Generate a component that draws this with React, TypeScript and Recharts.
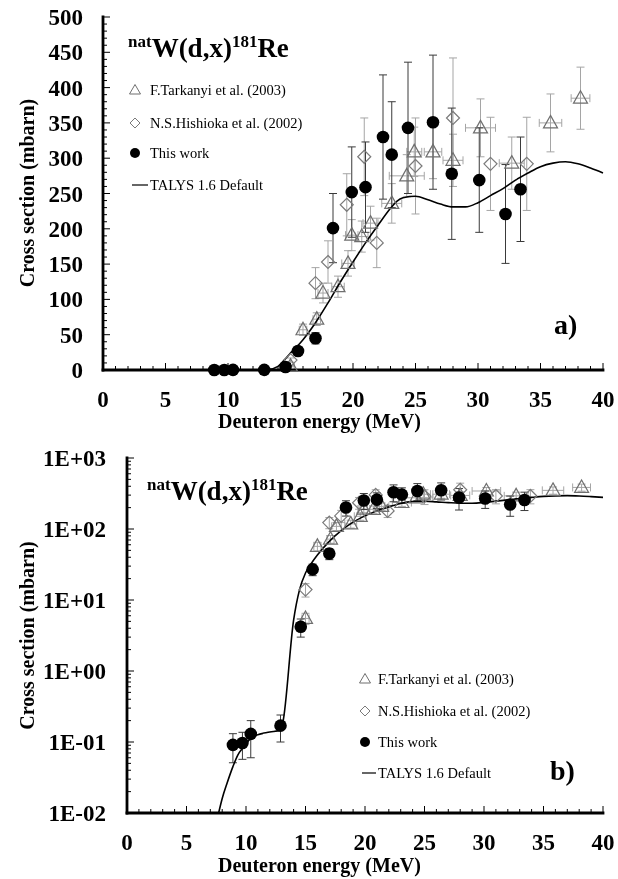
import React from 'react';
import { ComposedChart, Scatter, Line, XAxis, YAxis, ErrorBar } from 'recharts';

const FONT = '"Liberation Serif", "Times New Roman", serif';

// ---- Data ----
const energyThisWork = [8.9, 9.7, 10.4, 12.9, 14.6, 15.6, 17.0, 18.4, 19.9, 21.0, 22.4, 23.1, 24.4, 26.4, 27.9, 30.1, 32.2, 33.4];
const sigmaThisWork = [0.091, 0.097, 0.13, 0.17, 4.2, 27, 45, 201, 252, 259, 330, 305, 343, 351, 278, 269, 221, 256];
const sigmaErrThisWork = [0.04, 0.04, 0.07, 0.07, 1.2, 5, 8, 49, 64, 64, 88, 75, 93, 95, 93, 74, 70, 74];
const energyErrThisWork = [0.3, 0.3, 0.3, 0.3, 0.3, 0.3, 0.3, 0.3, 0.3, 0.3, 0.3, 0.3, 0.3, 0.3, 0.3, 0.3, 0.3, 0.3];

const energyTarkanyi = [15.0, 16.0, 17.1, 17.6, 18.8, 19.6, 19.9, 20.7, 21.4, 23.1, 24.3, 24.9, 26.4, 28.0, 30.2, 32.7, 35.8, 38.2];
const sigmaTarkanyi = [5.5, 57, 72, 109, 118, 151, 191, 189, 208, 236, 275, 309, 309, 297, 343, 293, 350, 385];
const sigmaErrTarkanyi = [1, 8, 9, 14, 15, 18, 22, 22, 24, 28, 30, 35, 38, 37, 41, 37, 41, 44];
const energyErrTarkanyi = [0.3, 0.3, 0.3, 0.4, 0.5, 0.5, 0.5, 0.5, 0.6, 0.8, 1.4, 0.6, 0.7, 0.8, 1.2, 1.0, 0.9, 0.75];

const energyNishioka = [15.0, 17.0, 18.0, 19.5, 20.9, 21.9, 25.0, 28.0, 31.0, 33.9];
const sigmaNishioka = [14, 123, 153, 234, 302, 180, 289, 357, 292, 292];
const sigmaErrNishioka = [3, 22, 30, 44, 55, 35, 68, 85, 66, 66];

const energyTalys = [7.7, 8.0, 8.4, 8.9, 9.3, 9.75, 10.3, 10.9, 12.0, 12.9, 13.1, 14.0, 14.5, 15.0, 15.5, 16.0, 17.0, 18.0, 19.0, 20.0, 21.0, 22.0, 23.0, 23.5, 24.0, 25.0, 26.0, 27.0, 28.0, 29.0, 30.0, 31.0, 32.0, 33.0, 34.0, 35.0, 36.0, 37.0, 38.0, 39.0, 40.0];
const sigmaTalys = [0.01, 0.016, 0.026, 0.045, 0.065, 0.083, 0.108, 0.125, 0.138, 0.148, 0.19, 5.2, 14, 24, 33, 43, 67, 95, 125, 153, 180, 205, 229, 239, 244, 246, 241, 235, 231, 231, 237, 247, 257, 269, 279, 288, 293, 295, 292, 286, 279];

const xTicks = [0, 5, 10, 15, 20, 25, 30, 35, 40];
const linTicks = [0, 50, 100, 150, 200, 250, 300, 350, 400, 450, 500];
const logTicks = [0.01, 0.1, 1, 10, 100, 1000];
const logTickLabels = ['1E-02', '1E-01', '1E+00', '1E+01', '1E+02', '1E+03'];

const legendNames = ['F.Tarkanyi et al. (2003)', 'N.S.Hishioka et al. (2002)', 'This work', 'TALYS 1.6 Default'];

// ---- Derived tables ----
const thisWork = energyThisWork.map((x, i) => ({ x, y: sigmaThisWork[i], ey: sigmaErrThisWork[i], ex: energyErrThisWork[i] }));
const tarkanyi = energyTarkanyi.map((x, i) => ({ x, y: sigmaTarkanyi[i], ey: sigmaErrTarkanyi[i], ex: energyErrTarkanyi[i] }));
const nishioka = energyNishioka.map((x, i) => ({ x, y: sigmaNishioka[i], ey: sigmaErrNishioka[i] }));
const talys = energyTalys.map((x, i) => ({ x, y: sigmaTalys[i] }));

const xAllTicks: number[] = [];
for (let v = 0; v <= 40; v++) xAllTicks.push(v);
const linAllTicks: number[] = [];
for (let v = 0; v <= 500; v += 10) linAllTicks.push(v);
const logAllTicks: number[] = [];
for (let d = -2; d <= 2; d++) {
  for (let m = 1; m <= 9; m++) logAllTicks.push(parseFloat((m * Math.pow(10, d)).toPrecision(6)));
}
logAllTicks.push(1000);

const isLogMajor = (v: number) => Math.abs(Math.log10(v) - Math.round(Math.log10(v))) < 1e-9;

// ---- Shapes ----
const CircleShape = (p: any) => <circle cx={p.cx} cy={p.cy} r={6.3} fill="#000" />;
const TriangleShape = (p: any) => (
  <path d={`M${p.cx},${p.cy - 7.5} L${p.cx + 7},${p.cy + 5} L${p.cx - 7},${p.cy + 5} Z`} fill="none" stroke="#6f6f6f" strokeWidth={1.2} />
);
const DiamondShape = (p: any) => (
  <path d={`M${p.cx},${p.cy - 6.5} L${p.cx + 6.5},${p.cy} L${p.cx},${p.cy + 6.5} L${p.cx - 6.5},${p.cy} Z`} fill="none" stroke="#7a7a7a" strokeWidth={1.2} />
);

// ---- Ticks ----
const XBottomTick = (props: any) => {
  const { x, y, payload } = props;
  const v = payload.value;
  const major = xTicks.includes(v);
  return (
    <g>
      <line x1={x} y1={y} x2={x} y2={y - (major ? 7 : 4)} stroke="#000" strokeWidth={1} />
      {major && (
        <text x={x} y={y + 37} textAnchor="middle" fontFamily={FONT} fontWeight="bold" fontSize={23} fill="#000">{v}</text>
      )}
    </g>
  );
};
const XTopTick = (props: any) => {
  const { x, y, payload } = props;
  const major = xTicks.includes(payload.value);
  return <line x1={x} y1={y} x2={x} y2={y + (major ? 7 : 4)} stroke="#000" strokeWidth={1} />;
};
const YLinLeftTick = (props: any) => {
  const { x, y, payload } = props;
  const v = payload.value;
  const major = linTicks.includes(v);
  return (
    <g>
      <line x1={x} y1={y} x2={x + (major ? 7 : 4)} y2={y} stroke="#000" strokeWidth={1} />
      {major && (
        <text x={x - 20} y={y} dy="0.35em" textAnchor="end" fontFamily={FONT} fontWeight="bold" fontSize={23} fill="#000">{v}</text>
      )}
    </g>
  );
};
const YLinRightTick = (props: any) => {
  const { x, y, payload } = props;
  const major = linTicks.includes(payload.value);
  return <line x1={x} y1={y} x2={x - (major ? 7 : 4)} y2={y} stroke="#000" strokeWidth={1} />;
};
const YLogLeftTick = (props: any) => {
  const { x, y, payload } = props;
  const v = payload.value;
  const major = isLogMajor(v);
  const idx = logTicks.findIndex((t) => Math.abs(t - v) / t < 1e-6);
  return (
    <g>
      <line x1={x} y1={y} x2={x + (major ? 7 : 4)} y2={y} stroke="#000" strokeWidth={1} />
      {major && idx >= 0 && (
        <text x={x - 21} y={y} dy="0.35em" textAnchor="end" fontFamily={FONT} fontWeight="bold" fontSize={23} fill="#000">{logTickLabels[idx]}</text>
      )}
    </g>
  );
};
const YLogRightTick = (props: any) => {
  const { x, y, payload } = props;
  const major = isLogMajor(payload.value);
  return <line x1={x} y1={y} x2={x - (major ? 7 : 4)} y2={y} stroke="#000" strokeWidth={1} />;
};

const axisLineStyle = { stroke: '#000', strokeWidth: 2.8, strokeLinecap: 'square' as const };

const Title = ({ x, y }: { x: number; y: number }) => (
  <text x={x} y={y} fontFamily={FONT} fontWeight="bold" fontSize={27} fill="#000">
    <tspan fontSize={17} dy={-10}>nat</tspan>
    <tspan dy={10}>W(d,x)</tspan>
    <tspan fontSize={17} dy={-10}>181</tspan>
    <tspan dy={10}>Re</tspan>
  </text>
);

const LegendBlock = ({ mx, tx, rows }: { mx: number; tx: number; rows: number[] }) => (
  <g fontFamily={FONT} fontSize={14.5} fill="#000">
    <path d={`M${mx},${rows[0] - 5.5} L${mx + 5.5},${rows[0] + 4} L${mx - 5.5},${rows[0] + 4} Z`} fill="none" stroke="#6f6f6f" strokeWidth={1} />
    <text x={tx} y={rows[0] + 5}>{legendNames[0]}</text>
    <path d={`M${mx},${rows[1] - 5} L${mx + 5},${rows[1]} L${mx},${rows[1] + 5} L${mx - 5},${rows[1]} Z`} fill="none" stroke="#7a7a7a" strokeWidth={1} />
    <text x={tx} y={rows[1] + 5}>{legendNames[1]}</text>
    <circle cx={mx} cy={rows[2]} r={5} fill="#000" />
    <text x={tx} y={rows[2] + 5}>{legendNames[2]}</text>
    <line x1={mx - 3} y1={rows[3]} x2={tx - 2} y2={rows[3]} stroke="#000" strokeWidth={1.2} />
    <text x={tx} y={rows[3] + 5}>{legendNames[3]}</text>
  </g>
);

const XTitle = ({ x, y }: { x: number; y: number }) => (
  <text x={x} y={y} fontFamily={FONT} fontWeight="bold" fontSize={20} fill="#000">Deuteron energy (MeV)</text>
);
const YTitle = ({ x, y }: { x: number; y: number }) => (
  <text x={x} y={y} transform={`rotate(-90, ${x}, ${y})`} textAnchor="middle" dy="0.35em" fontFamily={FONT} fontWeight="bold" fontSize={20} fill="#000">Cross section (mbarn)</text>
);

export default function App() {
  return (
    <div style={{ position: 'fixed', left: 8, top: 0, width: 610, height: 879 }}>
      <ComposedChart width={610} height={440} margin={{ top: 17, right: 15, bottom: 0, left: 0 }}>
        <XAxis xAxisId="b" dataKey="x" type="number" domain={[0, 40]} ticks={xAllTicks} interval={0} orientation="bottom" height={70}
          tickSize={0} tickMargin={0} tickLine={false} axisLine={axisLineStyle} tick={XBottomTick} />
        <XAxis xAxisId="t" dataKey="x" type="number" domain={[0, 40]} ticks={xAllTicks} interval={0} orientation="top" height={0}
          tickSize={0} tickMargin={0} tickLine={false} axisLine={axisLineStyle} tick={XTopTick} />
        <YAxis yAxisId="l" type="number" domain={[0, 500]} ticks={linAllTicks} interval={0} orientation="left" width={95}
          tickSize={0} tickMargin={0} tickLine={false} axisLine={axisLineStyle} tick={YLinLeftTick} />
        <YAxis yAxisId="r" type="number" domain={[0, 500]} ticks={linAllTicks} interval={0} orientation="right" width={0}
          tickSize={0} tickMargin={0} tickLine={false} axisLine={axisLineStyle} tick={YLinRightTick} />
        <Scatter xAxisId="b" yAxisId="l" data={tarkanyi} dataKey="y" shape={TriangleShape} isAnimationActive={false}>
          <ErrorBar dataKey="ey" direction="y" width={4} stroke="#a5a5a5" strokeWidth={1} />
          <ErrorBar dataKey="ex" direction="x" width={4} stroke="#a5a5a5" strokeWidth={1} />
        </Scatter>
        <Scatter xAxisId="b" yAxisId="l" data={nishioka} dataKey="y" shape={DiamondShape} isAnimationActive={false}>
          <ErrorBar dataKey="ey" direction="y" width={4} stroke="#a5a5a5" strokeWidth={1} />
        </Scatter>
        <Scatter xAxisId="b" yAxisId="l" data={thisWork} dataKey="y" shape={CircleShape} isAnimationActive={false}>
          <ErrorBar dataKey="ey" direction="y" width={4} stroke="#3a3a3a" strokeWidth={1} />
          <ErrorBar dataKey="ex" direction="x" width={4} stroke="#3a3a3a" strokeWidth={1} />
        </Scatter>
        <Line xAxisId="b" yAxisId="l" data={talys} dataKey="y" type="monotone" stroke="#000" strokeWidth={1.6} dot={false} activeDot={false} isAnimationActive={false} />
        <Title x={120} y={57} />
        <LegendBlock mx={127} tx={142} rows={[90, 123, 153, 185]} />
        <text x={546} y={334} fontFamily={FONT} fontWeight="bold" fontSize={28} fill="#000">a)</text>
        <XTitle x={210} y={428} />
        <YTitle x={19} y={193} />
      </ComposedChart>
      <ComposedChart width={610} height={439} margin={{ top: 18, right: 15, bottom: 0, left: 0 }}>
        <XAxis xAxisId="b" dataKey="x" type="number" domain={[0, 40]} ticks={xAllTicks} interval={0} orientation="bottom" height={66}
          tickSize={0} tickMargin={0} tickLine={false} axisLine={axisLineStyle} tick={XBottomTick} />
        <XAxis xAxisId="t" dataKey="x" type="number" domain={[0, 40]} ticks={xAllTicks} interval={0} orientation="top" height={0}
          tickSize={0} tickMargin={0} tickLine={false} axisLine={axisLineStyle} tick={XTopTick} />
        <YAxis yAxisId="l" type="number" scale="log" domain={[0.01, 1000]} ticks={logAllTicks} interval={0} orientation="left" width={119}
          tickSize={0} tickMargin={0} tickLine={false} axisLine={axisLineStyle} tick={YLogLeftTick} />
        <YAxis yAxisId="r" type="number" scale="log" domain={[0.01, 1000]} ticks={logAllTicks} interval={0} orientation="right" width={0}
          tickSize={0} tickMargin={0} tickLine={false} axisLine={axisLineStyle} tick={YLogRightTick} />
        <Scatter xAxisId="b" yAxisId="l" data={tarkanyi} dataKey="y" shape={TriangleShape} isAnimationActive={false}>
          <ErrorBar dataKey="ey" direction="y" width={4} stroke="#a5a5a5" strokeWidth={1} />
          <ErrorBar dataKey="ex" direction="x" width={4} stroke="#a5a5a5" strokeWidth={1} />
        </Scatter>
        <Scatter xAxisId="b" yAxisId="l" data={nishioka} dataKey="y" shape={DiamondShape} isAnimationActive={false}>
          <ErrorBar dataKey="ey" direction="y" width={4} stroke="#a5a5a5" strokeWidth={1} />
        </Scatter>
        <Scatter xAxisId="b" yAxisId="l" data={thisWork} dataKey="y" shape={CircleShape} isAnimationActive={false}>
          <ErrorBar dataKey="ey" direction="y" width={4} stroke="#3a3a3a" strokeWidth={1} />
          <ErrorBar dataKey="ex" direction="x" width={4} stroke="#3a3a3a" strokeWidth={1} />
        </Scatter>
        <Line xAxisId="b" yAxisId="l" data={talys} dataKey="y" type="monotone" stroke="#000" strokeWidth={1.6} dot={false} activeDot={false} isAnimationActive={false} />
        <Title x={139} y={60} />
        <LegendBlock mx={357} tx={370} rows={[239, 271, 302, 333]} />
        <text x={542} y={340} fontFamily={FONT} fontWeight="bold" fontSize={28} fill="#000">b)</text>
        <XTitle x={210} y={432} />
        <YTitle x={19} y={195.5} />
      </ComposedChart>
    </div>
  );
}
